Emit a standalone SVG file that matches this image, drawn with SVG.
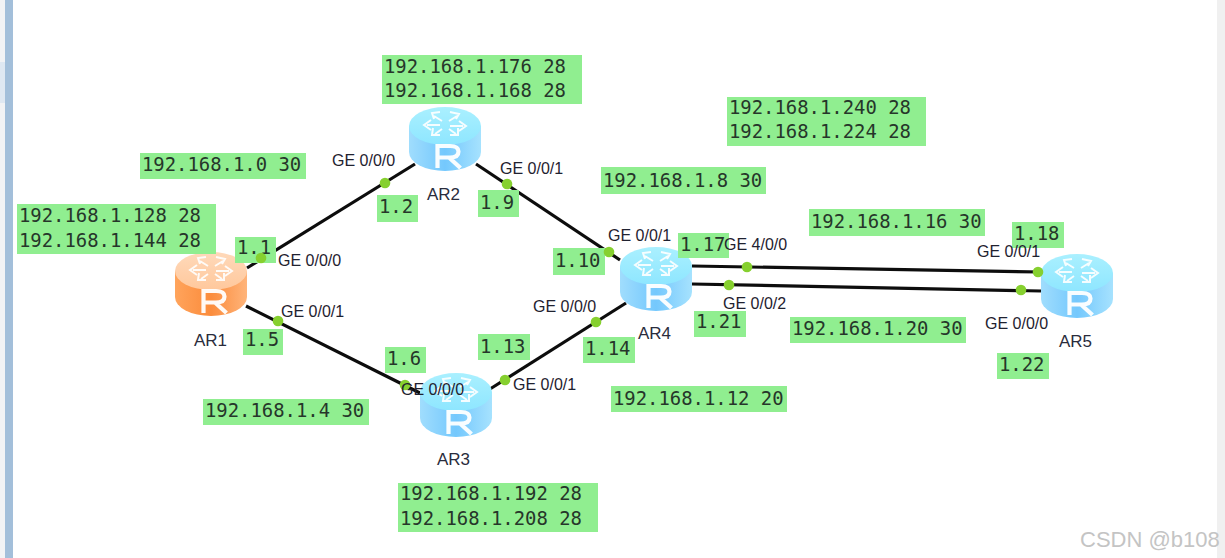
<svg xmlns="http://www.w3.org/2000/svg" xmlns:xlink="http://www.w3.org/1999/xlink" width="1225" height="558" viewBox="0 0 1225 558">
<style>
.lb{fill:#90ee90}
.ip{font-family:"DejaVu Sans Mono","Liberation Mono",monospace;font-size:18.9px;fill:#26362a}
.t{font-family:"Liberation Sans",Arial,sans-serif;font-size:16px;fill:#1f2230}
.n{font-family:"Liberation Sans",Arial,sans-serif;font-size:17px;fill:#2a2c3c}
.link{stroke:#0d0d0d;stroke-width:3.2;fill:none}
.dot{fill:#86d02f}
.arr{fill:none;stroke:#fff;stroke-width:2;opacity:.9}
.rr{fill:none;stroke:#fff;stroke-width:4.2;opacity:.95}
</style>
<defs>
<linearGradient id="blueBody" x1="0" x2="1" y1="0" y2="0"><stop offset="0" stop-color="#a0ddfd"/><stop offset=".5" stop-color="#74c8fd"/><stop offset="1" stop-color="#a6e2fe"/></linearGradient>
<linearGradient id="blueTop" x1="0" x2="0" y1="0" y2="1"><stop offset="0" stop-color="#aaf0ff"/><stop offset="1" stop-color="#8ee6ff"/></linearGradient>
<linearGradient id="orangeBody" x1="0" x2="1" y1="0" y2="0"><stop offset="0" stop-color="#ffa45c"/><stop offset=".5" stop-color="#fb8c3c"/><stop offset="1" stop-color="#ffb47a"/></linearGradient>
<linearGradient id="orangeTop" x1="0" x2="0" y1="0" y2="1"><stop offset="0" stop-color="#ffd9ba"/><stop offset="1" stop-color="#ffc89c"/></linearGradient>
<g id="glyph">
<path class="arr" d="M33 14 L25 9 M31 5 L23 6 L25 12 M40 14 L48 9 M41 5 L50 7 L47 12 M31 18 L18 18 M22 13 L15 18 L22 23 M41 19 L54 19 M50 14 L57 19 L50 24 M33 22 L26 27 M24 21 L23 28 L31 28 M40 22 L47 27 M49 21 L49 28 L41 28"/>
<path class="rr" d="M28.5 61 V39 H41 Q49.5 39 49.5 44.5 Q49.5 50.5 41 50.5 H28.5 M40 50.5 L51.5 61"/>
</g>
<symbol id="rb" viewBox="0 0 72 64" width="72" height="64">
<path d="M0 19 V45 A36 19 0 0 0 72 45 V19 Z" fill="url(#blueBody)"/>
<ellipse cx="36" cy="19" rx="36" ry="19" fill="url(#blueTop)"/>
<use xlink:href="#glyph" href="#glyph"/>
</symbol>
<symbol id="ro" viewBox="0 0 72 64" width="72" height="64">
<path d="M0 19 V45 A36 19 0 0 0 72 45 V19 Z" fill="url(#orangeBody)"/>
<ellipse cx="36" cy="19" rx="36" ry="19" fill="url(#orangeTop)"/>
<use xlink:href="#glyph" href="#glyph"/>
</symbol>
</defs>
<rect width="1225" height="558" fill="#fff"/>
<g id="chrome">
<rect x="0" y="0" width="5" height="558" fill="#f2f3f5"/>
<rect x="0" y="62" width="5" height="41" fill="#dfe8f2"/>
<rect x="5" y="0" width="8" height="558" fill="#a3bfda"/>
<rect x="1217" y="0" width="8" height="558" fill="#f0f0f0"/>
</g>
<g id="connectors">
<line class="link" x1="247" y1="268" x2="415" y2="164"/>
<line class="link" x1="476" y1="164" x2="620" y2="260"/>
<line class="link" x1="246" y1="306" x2="420" y2="393"/>
<line class="link" x1="626" y1="303" x2="490" y2="389"/>
<line class="link" x1="692" y1="266" x2="1041" y2="272"/>
<line class="link" x1="692" y1="284" x2="1041" y2="291"/>
</g>
<g id="AR1"><use href="#ro" xlink:href="#ro" x="175" y="252"/><text class="n" x="194" y="346">AR1</text></g>
<g id="AR2"><use href="#rb" xlink:href="#rb" x="409" y="107"/><text class="n" x="427" y="200">AR2</text></g>
<g id="AR3"><use href="#rb" xlink:href="#rb" x="420" y="373"/><text class="n" x="437" y="465">AR3</text></g>
<g id="AR4"><use href="#rb" xlink:href="#rb" x="620" y="247"/><text class="n" x="638" y="339">AR4</text></g>
<g id="AR5"><use href="#rb" xlink:href="#rb" x="1041" y="254"/><text class="n" x="1059" y="347">AR5</text></g>
<g id="subnets">
<g><rect class="lb" x="382" y="55" width="200" height="49"/><text class="ip" x="384" y="73">192.168.1.176 28</text><text class="ip" x="384" y="97">192.168.1.168 28</text></g>
<g><rect class="lb" x="727" y="97" width="199" height="49"/><text class="ip" x="729" y="114">192.168.1.240 28</text><text class="ip" x="729" y="138">192.168.1.224 28</text></g>
<g><rect class="lb" x="140" y="153" width="166" height="26"/><text class="ip" x="142" y="171">192.168.1.0 30</text></g>
<g><rect class="lb" x="601" y="167" width="165" height="27"/><text class="ip" x="603" y="187">192.168.1.8 30</text></g>
<g><rect class="lb" x="17" y="204" width="199" height="50"/><text class="ip" x="19" y="222">192.168.1.128 28</text><text class="ip" x="19" y="247">192.168.1.144 28</text></g>
<g><rect class="lb" x="809" y="209" width="176" height="27"/><text class="ip" x="811" y="228">192.168.1.16 30</text></g>
<g><rect class="lb" x="790" y="317" width="176" height="26"/><text class="ip" x="792" y="335">192.168.1.20 30</text></g>
<g><rect class="lb" x="203" y="399" width="166" height="26"/><text class="ip" x="205" y="417">192.168.1.4 30</text></g>
<g><rect class="lb" x="611" y="386" width="176" height="26"/><text class="ip" x="613" y="405">192.168.1.12 20</text></g>
<g><rect class="lb" x="398" y="483" width="200" height="49"/><text class="ip" x="400" y="500">192.168.1.192 28</text><text class="ip" x="400" y="525">192.168.1.208 28</text></g>
</g>
<g id="addresses">
<g><rect class="lb" x="235" y="237" width="41" height="26"/><text class="ip" x="237" y="254">1.1</text></g>
<g><rect class="lb" x="377" y="195" width="41" height="27"/><text class="ip" x="379" y="213">1.2</text></g>
<g><rect class="lb" x="478" y="190" width="41" height="27"/><text class="ip" x="480" y="209">1.9</text></g>
<g><rect class="lb" x="553" y="248" width="52" height="27"/><text class="ip" x="555" y="267">1.10</text></g>
<g><rect class="lb" x="678" y="233" width="51" height="25"/><text class="ip" x="680" y="251">1.17</text></g>
<g><rect class="lb" x="1012" y="222" width="52" height="26"/><text class="ip" x="1014" y="240">1.18</text></g>
<g><rect class="lb" x="694" y="311" width="52" height="26"/><text class="ip" x="696" y="328">1.21</text></g>
<g><rect class="lb" x="997" y="353" width="52" height="26"/><text class="ip" x="999" y="371">1.22</text></g>
<g><rect class="lb" x="243" y="329" width="40" height="26"/><text class="ip" x="245" y="346">1.5</text></g>
<g><rect class="lb" x="385" y="347" width="41" height="26"/><text class="ip" x="387" y="365">1.6</text></g>
<g><rect class="lb" x="478" y="334" width="52" height="26"/><text class="ip" x="480" y="353">1.13</text></g>
<g><rect class="lb" x="583" y="337" width="52" height="26"/><text class="ip" x="585" y="355">1.14</text></g>
</g>
<g id="ports">
<circle class="dot" cx="261" cy="258" r="5.3"/><circle class="dot" cx="278" cy="321" r="5.3"/>
<circle class="dot" cx="385" cy="183" r="5.3"/><circle class="dot" cx="507" cy="184" r="5.3"/>
<circle class="dot" cx="609" cy="252" r="5.3"/><circle class="dot" cx="405" cy="385" r="5.3"/>
<circle class="dot" cx="505" cy="380" r="5.3"/><circle class="dot" cx="596" cy="322" r="5.3"/>
<circle class="dot" cx="747" cy="267" r="5.3"/><circle class="dot" cx="729" cy="285" r="5.3"/>
<circle class="dot" cx="1038" cy="272" r="5.3"/><circle class="dot" cx="1021" cy="290" r="5.3"/>
<text class="t" x="278" y="266">GE 0/0/0</text>
<text class="t" x="281" y="317">GE 0/0/1</text>
<text class="t" x="332" y="166">GE 0/0/0</text>
<text class="t" x="500" y="174">GE 0/0/1</text>
<text class="t" x="608" y="241">GE 0/0/1</text>
<text class="t" x="724" y="250">GE 4/0/0</text>
<text class="t" x="723" y="309">GE 0/0/2</text>
<text class="t" x="533" y="312">GE 0/0/0</text>
<text class="t" x="513" y="390">GE 0/0/1</text>
<text class="t" x="401" y="395">GE 0/0/0</text>
<text class="t" x="977" y="257">GE 0/0/1</text>
<text class="t" x="985" y="329">GE 0/0/0</text>
</g>
<text x="1080" y="547" font-family="Liberation Sans, Arial, sans-serif" font-size="22" fill="#c4c4c4">CSDN @b108</text>
</svg>
